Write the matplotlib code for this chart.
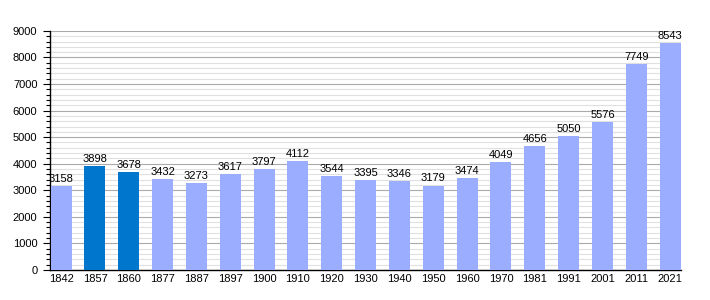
import matplotlib
matplotlib.use("Agg")
import matplotlib.pyplot as plt
from matplotlib.ticker import MultipleLocator

years = ["1842", "1857", "1860", "1877", "1887", "1897", "1900", "1910", "1920", "1930",
         "1940", "1950", "1960", "1970", "1981", "1991", "2001", "2011", "2021"]
population = [3158, 3898, 3678, 3432, 3273, 3617, 3797, 4112, 3544, 3395,
              3346, 3179, 3474, 4049, 4656, 5050, 5576, 7749, 8543]
highlight = ["1857", "1860"]

light = "#9badff"
dark = "#0077cc"

plt.rcParams['font.family'] = ['Liberation Sans', 'DejaVu Sans']
fig = plt.figure(figsize=(7.1, 3.0), dpi=100)
ax = fig.add_axes([0.0704, 0.1, 0.959 - 0.0704, 0.797])

x = list(range(len(years)))
colors = [dark if y in highlight else light for y in years]
w = 0.62
ax.bar(x, population, width=w, color=colors, zorder=3)
for xi, v in zip(x, population):
    ax.text(xi, v + 80, str(v), ha="center", va="bottom", fontsize=8, zorder=4)

ax.set_xlim(-w / 2 - 0.02, len(years) - 1 + w / 2 + 0.01)
ax.set_ylim(0, 9000)
ax.set_xticks(x)
ax.set_xticklabels(years, fontsize=8)
ax.yaxis.set_major_locator(MultipleLocator(1000))
ax.yaxis.set_minor_locator(MultipleLocator(200))
ax.tick_params(axis="y", which="major", length=5, width=0.8, labelsize=8, pad=4)
ax.tick_params(axis="y", which="minor", length=3, width=0.8)
ax.tick_params(axis="x", length=0, pad=3)
ax.grid(axis="y", which="major", color="#aaaaaa", linewidth=0.8, zorder=0)
ax.grid(axis="y", which="minor", color="#e0e0e0", linewidth=0.8, zorder=0)
for s in ["top", "right"]:
    ax.spines[s].set_visible(False)
ax.spines["left"].set_linewidth(1.0)
ax.spines["bottom"].set_linewidth(1.0)

fig.savefig("out.png", dpi=100, facecolor="white")
